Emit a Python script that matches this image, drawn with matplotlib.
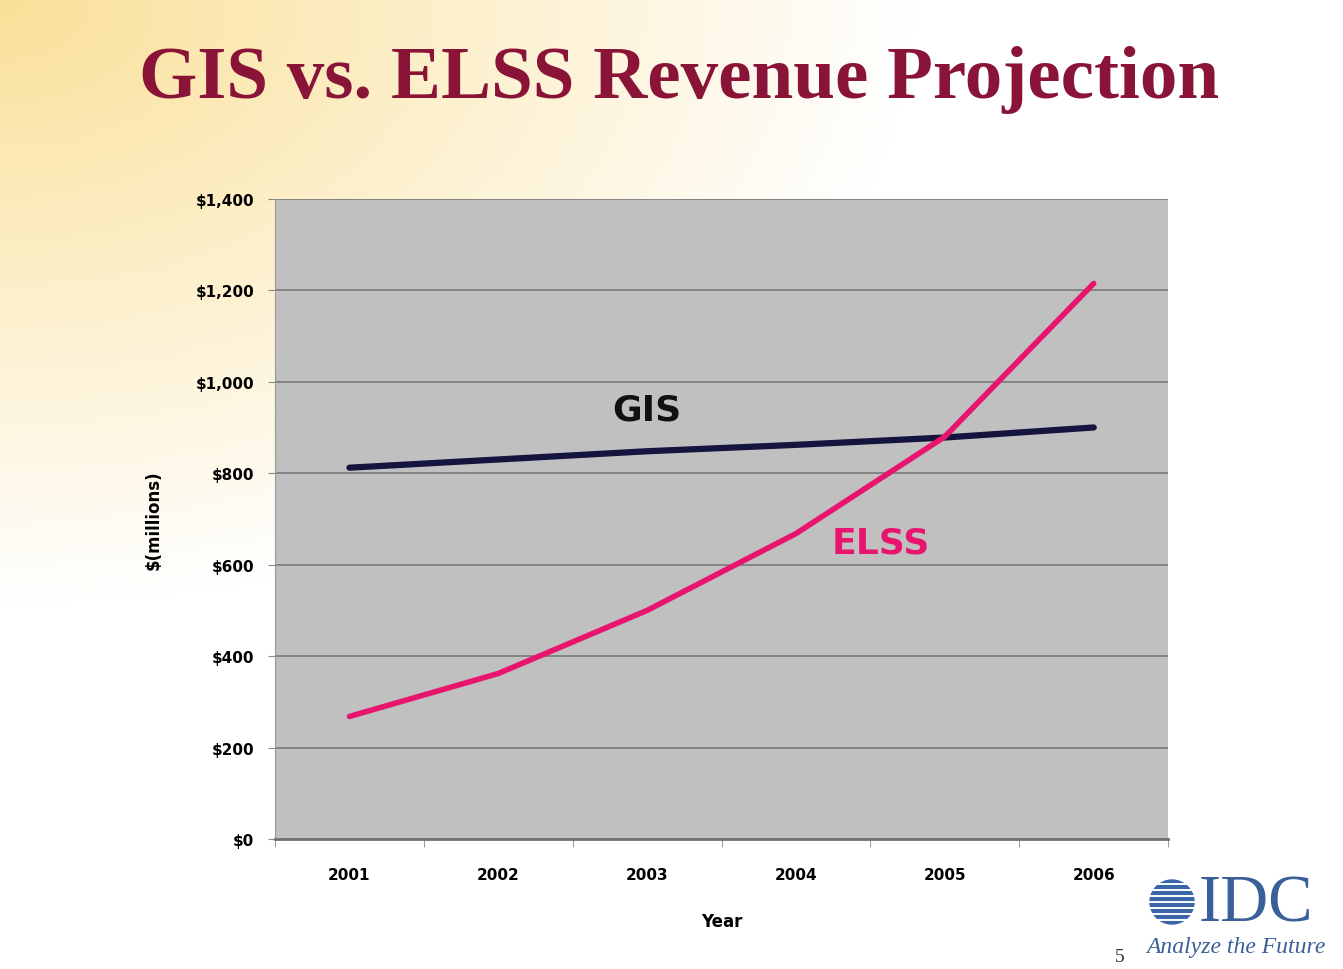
import numpy as np
import matplotlib.pyplot as plt
from matplotlib.patches import Circle

years = ['2001', '2002', '2003', '2004', '2005', '2006']
gis = [812, 830, 848, 862, 878, 900]
elss = [268, 362, 500, 668, 880, 1215]
y_ticks = [0, 200, 400, 600, 800, 1000, 1200, 1400]
y_labels = ['$0', '$200', '$400', '$600', '$800', '$1,000', '$1,200', '$1,400']

fig = plt.figure(figsize=(13.43, 9.70), dpi=100)

# soft cream background wash in the top-left corner
bg = fig.add_axes([0, 0, 1, 1], zorder=-10)
yy, xx = np.mgrid[0:1:200j, 0:1:280j]
r = np.sqrt((xx * 1.1) ** 2 + ((1 - yy) * 1.2) ** 2)
w = np.clip(1 - r / 0.75, 0, 1)
img = np.ones((200, 280, 3))
img[..., 0] = 1 - 0.02 * w
img[..., 1] = 1 - 0.12 * w
img[..., 2] = 1 - 0.40 * w
bg.imshow(img, extent=[0, 1, 0, 1], aspect='auto', origin='lower')
bg.set_xlim(0, 1)
bg.set_ylim(0, 1)
bg.axis('off')

fig.text(0.506, 0.918, 'GIS vs. ELSS Revenue Projection', ha='center', va='center',
         fontsize=54, fontweight='bold', family='Liberation Serif', color='#8a1438')

ax = fig.add_axes([0.2048, 0.134, 0.665, 0.660])
ax.set_facecolor('#c0c0c0')
x = np.arange(len(years))
ax.plot(x, gis, color='#14143f', lw=4.5, solid_capstyle='round')
ax.plot(x, elss, color='#e8146e', lw=4.0, solid_capstyle='round')

ax.set_xlim(-0.5, len(years) - 0.5)
ax.set_ylim(0, 1400)
ax.set_yticks(y_ticks)
ax.set_yticklabels(y_labels, fontsize=11, fontweight='bold')
ax.set_xticks(x)
ax.set_xticklabels(years, fontsize=11, fontweight='bold')
ax.set_xticks(np.arange(-0.5, len(years)), minor=True)
ax.tick_params(axis='x', which='major', length=0, pad=20)
ax.tick_params(axis='x', which='minor', length=6, color='#888888')
ax.tick_params(axis='y', length=5, color='#888888', pad=10)
ax.grid(axis='y', color='#7a7a7a', lw=1.2)
ax.set_axisbelow(True)
for s in ['top', 'right']:
    ax.spines[s].set_visible(False)
ax.spines['left'].set_color('#999999')
ax.spines['bottom'].set_color('#707070')
ax.spines['bottom'].set_linewidth(2)

ax.set_xlabel('Year', fontsize=12, fontweight='bold', labelpad=22)
ax.set_ylabel('$(millions)', fontsize=12, fontweight='bold', labelpad=24)

ax.text(2.0, 902, 'GIS', fontsize=26, fontweight='bold', color='#111111', ha='center', va='bottom')
ax.text(3.57, 612, 'ELSS', fontsize=26, fontweight='bold', color='#e8146e', ha='center', va='bottom')

# IDC logo
logo = fig.add_axes([1100 / 1343, 0.0, 243 / 1343, 110 / 970], zorder=5)
logo.set_xlim(0, 243)
logo.set_ylim(110, 0)
logo.axis('off')
logo.add_patch(Circle((72, 43), 22, color='#3a66a8'))
for k in range(-18, 20, 6):
    logo.plot([42, 102], [43 + k, 43 + k], color='white', lw=1.4)
logo.text(99, 45, 'IDC', fontsize=48, family='Liberation Serif', color='#3a5f99', va='center', ha='left')
logo.text(136, 88, 'Analyze the Future', fontsize=17, family='Liberation Serif', style='italic',
          color='#3a5f99', ha='center', va='center')
logo.text(20, 98, '5', fontsize=14, family='Liberation Serif', color='#333333', ha='center', va='center')

fig.savefig('out.png', dpi=100)
